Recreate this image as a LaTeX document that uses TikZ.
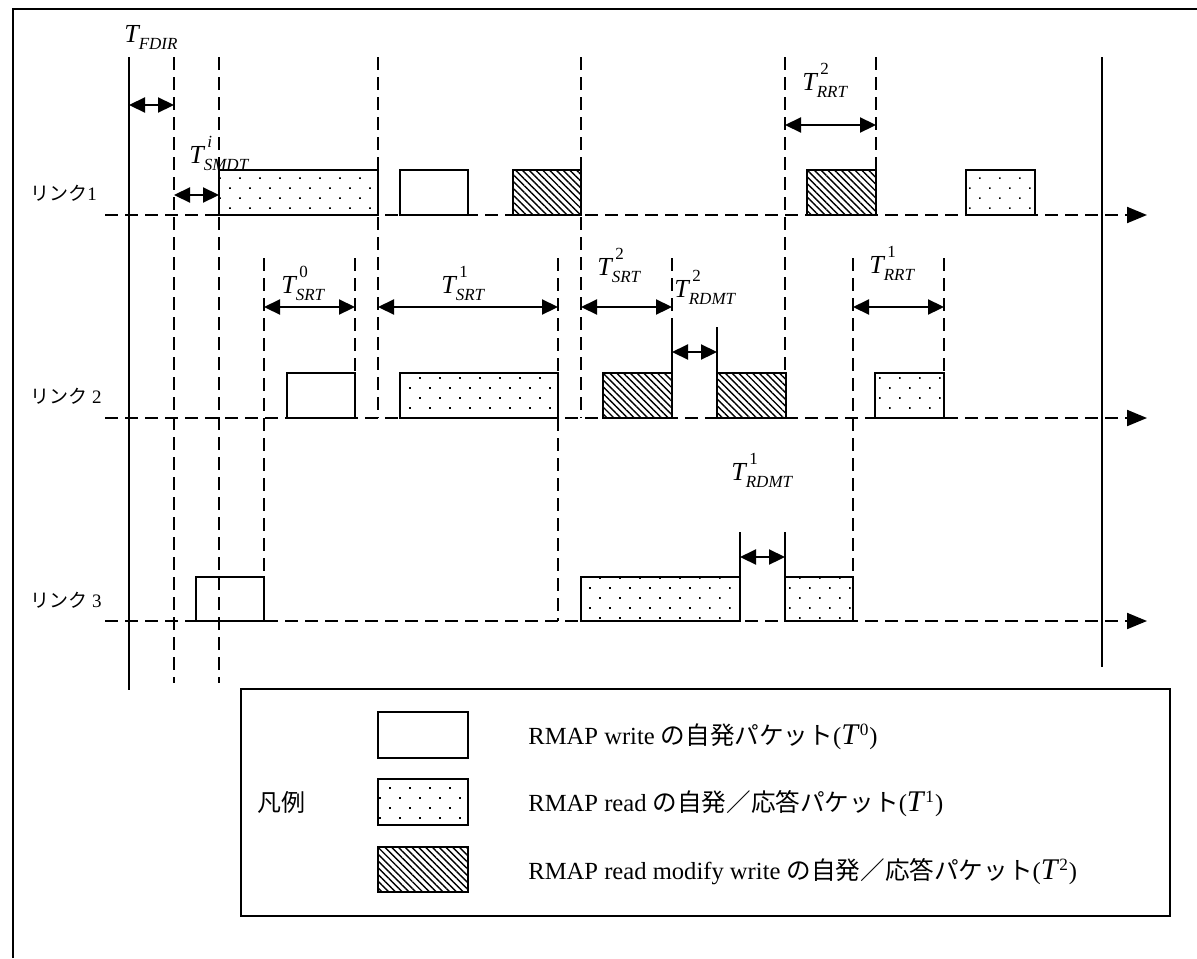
\documentclass[tikz,border=0pt]{standalone}
\usepackage{fontspec}
\setmainfont{Liberation Serif}
\newfontfamily\jp{Noto Sans CJK JP}
\usetikzlibrary{arrows.meta,patterns.meta}
\newcommand\Tlab[2]{\textit{T}\rlap{\kern0.08em\raisebox{0.6em}{\fontsize{8.5}{9}\selectfont #1}}\kern-0.06em\raisebox{-0.3em}{\fontsize{8.5}{9}\selectfont\textit{#2}}}
\begin{document}
\begin{tikzpicture}[x=0.5pt,y=-0.5pt,
  sline/.style={line width=1.1pt},
  dline/.style={line width=1pt,dash pattern=on 6.5pt off 3.5pt},
  pk/.style={line width=1.2pt},
  dotp/.style={pk,pattern={Dots[distance=7.07pt,angle=45,radius=0.6pt]}},
  hatp/.style={pk,pattern={Lines[angle=-45,distance=2.4pt,line width=0.7pt]}},
  dim/.style={line width=1.1pt,{Triangle[length=8pt,width=7.5pt]}-{Triangle[length=8pt,width=7.5pt]}},
  baseline arrow/.style={dline,-{Triangle[length=10pt,width=8pt]}},
  tl/.style={font=\fontsize{13}{15}\selectfont,inner sep=0pt,anchor=base west},
  ll/.style={font=\fontsize{9.5}{11}\selectfont,inner sep=0pt,anchor=base west},
  lt/.style={font=\fontsize{12.3}{14}\selectfont,inner sep=0pt,anchor=base west},
]
\useasboundingbox (0,0) rectangle (1197,958);
% frame
\draw[line width=1.2pt] (13,958) -- (13,9) -- (1197,9);

% link baselines
\coordinate (b1s) at (105,215); \coordinate (b1e) at (1147,215);
\coordinate (b2s) at (105,418); \coordinate (b2e) at (1147,418);
\coordinate (b3s) at (105,621); \coordinate (b3e) at (1147,621);
\draw[baseline arrow] (b1s) -- (b1e);
\draw[baseline arrow] (b2s) -- (b2e);
\draw[baseline arrow] (b3s) -- (b3e);

% solid verticals
\draw[sline] (129,57) -- (129,690);
\draw[sline] (1102,57) -- (1102,667);

% dashed verticals
\draw[dline] (174,57) -- (174,683);
\draw[dline] (219,57) -- (219,683);
\draw[dline] (378,57) -- (378,418);
\draw[dline] (581,57) -- (581,418);
\draw[dline] (785,57) -- (785,373);
\draw[dline] (876,57) -- (876,170);
\draw[dline] (264,258) -- (264,577);
\draw[dline] (355,258) -- (355,373);
\draw[dline] (558,258) -- (558,621);
\draw[dline] (672,258) -- (672,327);
\draw[dline] (853,258) -- (853,577);
\draw[dline] (944,258) -- (944,373);

% solid short verticals
\draw[sline] (672,327) -- (672,373);
\draw[sline] (717,327) -- (717,373);
\draw[sline] (740,532) -- (740,577);
\draw[sline] (785,532) -- (785,577);

% packets link 1
\draw[dotp] (219,170) rectangle (378,215);
\draw[pk] (400,170) rectangle (468,215);
\draw[hatp] (513,170) rectangle (581,215);
\draw[hatp] (807,170) rectangle (876,215);
\draw[dotp] (966,170) rectangle (1035,215);
% packets link 2
\draw[pk] (287,373) rectangle (355,418);
\draw[dotp] (400,373) rectangle (558,418);
\draw[hatp] (603,373) rectangle (672,418);
\draw[hatp] (717,373) rectangle (786,418);
\draw[dotp] (875,373) rectangle (944,418);
% packets link 3
\draw[pk] (196,577) rectangle (264,621);
\draw[dotp] (581,577) rectangle (740,621);
\draw[dotp] (785,577) rectangle (853,621);

% dimension arrows
\draw[dim] (129,105) -- (174,105);
\draw[dim] (174,195) -- (219,195);
\draw[dim] (785,125) -- (876,125);
\draw[dim] (264,307) -- (355,307);
\draw[dim] (378,307) -- (558,307);
\draw[dim] (581,307) -- (672,307);
\draw[dim] (672,352) -- (717,352);
\draw[dim] (853,307) -- (944,307);
\draw[dim] (740,557) -- (785,557);

% time labels
\node[tl] (tfdir) at (124,42) {\Tlab{}{FDIR}};
\node[tl] (tsmdt) at (189,163) {\Tlab{\textit{i}}{SMDT}};
\node[tl] (trrt2) at (802,90) {\Tlab{2}{RRT}};
\node[tl] (tsrt0) at (281,293) {\Tlab{0}{SRT}};
\node[tl] (tsrt1) at (441,293) {\Tlab{1}{SRT}};
\node[tl] (tsrt2) at (597,275) {\Tlab{2}{SRT}};
\node[tl] (trdmt2) at (674,297) {\Tlab{2}{RDMT}};
\node[tl] (trrt1) at (869,273) {\Tlab{1}{RRT}};
\node[tl] (trdmt1) at (731,480) {\Tlab{1}{RDMT}};

% link labels
\node[ll] (l1) at (30,200) {{\jp リンク}1};
\node[ll] (l2) at (30,403) {{\jp リンク} 2};
\node[ll] (l3) at (30,607) {{\jp リンク} 3};

% legend
\draw[pk] (241,689) rectangle (1170,916);
\node[font=\jp\fontsize{12}{14}\selectfont,inner sep=0pt,anchor=west] (lgtitle) at (257,802) {凡例};
\draw[pk] (378,712) rectangle (468,758);
\draw[dotp] (378,779) rectangle (468,825);
\draw[hatp] (378,847) rectangle (468,892);
\node[lt] (lg1) at (528,744) {RMAP write {\jp の自発パケット}({\fontsize{15}{15}\selectfont\textit{T}}\textsuperscript{0})};
\node[lt] (lg2) at (528,811) {RMAP read {\jp の自発／応答パケット}({\fontsize{15}{15}\selectfont\textit{T}}\textsuperscript{1})};
\node[lt] (lg3) at (528,879) {RMAP read modify write {\jp の自発／応答パケット}({\fontsize{15}{15}\selectfont\textit{T}}\textsuperscript{2})};
\end{tikzpicture}
\end{document}
